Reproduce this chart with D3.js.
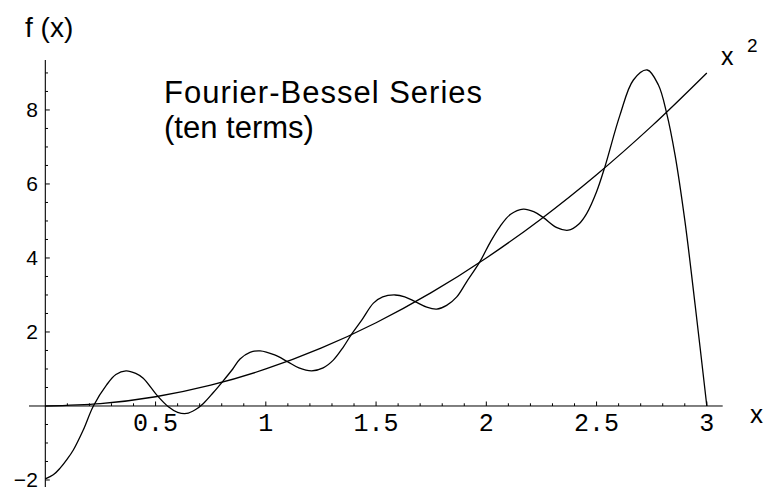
<!DOCTYPE html>
<html>
<head>
<meta charset="utf-8">
<script src="https://cdn.jsdelivr.net/npm/d3@7"></script>
<style>
  html, body { margin: 0; padding: 0; background: #fff; }
  svg { display: block; }
</style>
</head>
<body>
<svg id="chart" width="764" height="487"></svg>
<script>
// Ten-term Fourier-Bessel partial sum (x, f) and the target function x^2
const seriesX = [0.000, 0.036, 0.067, 0.100, 0.127, 0.172, 0.218, 0.278, 0.320, 0.366,
                 0.410, 0.444, 0.505, 0.558, 0.600, 0.641, 0.680, 0.717, 0.760, 0.804,
                 0.850, 0.883, 0.928, 0.974, 1.040, 1.098, 1.150, 1.208, 1.260, 1.306,
                 1.350, 1.390, 1.435, 1.488, 1.530, 1.586, 1.630, 1.677, 1.730, 1.775,
                 1.820, 1.866, 1.910, 1.971, 2.020, 2.062, 2.110, 2.168, 2.215, 2.259,
                 2.320, 2.372, 2.420, 2.455, 2.500, 2.538, 2.606, 2.667, 2.730, 2.780,
                 2.818, 2.856, 2.901, 2.947, 3.000];
const seriesY = [-1.97, -1.86, -1.68, -1.43, -1.19, -0.65, 0.00, 0.57, 0.85, 0.95,
                 0.88, 0.75, 0.30, -0.02, -0.17, -0.20, -0.10, 0.07, 0.35, 0.66,
                 1.00, 1.27, 1.45, 1.49, 1.38, 1.20, 1.03, 0.95, 1.03, 1.24,
                 1.58, 1.95, 2.32, 2.78, 2.95, 3.00, 2.95, 2.82, 2.67, 2.62,
                 2.72, 2.95, 3.35, 3.90, 4.45, 4.85, 5.18, 5.32, 5.25, 5.09,
                 4.82, 4.75, 4.92, 5.20, 5.79, 6.47, 7.86, 8.81, 9.08, 8.68,
                 7.91, 6.78, 4.98, 2.73, 0.00];

const squareX = [0, 0.25, 0.5, 0.75, 1, 1.25, 1.5, 1.75, 2, 2.25, 2.5, 2.75, 3];
const squareY = [0, 0.0625, 0.25, 0.5625, 1, 1.5625, 2.25, 3.0625, 4, 5.0625, 6.25, 7.5625, 9];

const xMajorTicks = [0.5, 1, 1.5, 2, 2.5, 3];
const xMajorLabels = ["0.5", "1", "1.5", "2", "2.5", "3"];
const xMinorTicks = [0.1, 0.2, 0.3, 0.4, 0.6, 0.7, 0.8, 0.9, 1.1, 1.2, 1.3, 1.4,
                     1.6, 1.7, 1.8, 1.9, 2.1, 2.2, 2.3, 2.4, 2.6, 2.7, 2.8, 2.9];
const yMajorTicks = [-2, 2, 4, 6, 8];
const yMajorLabels = ["\u22122", "2", "4", "6", "8"];
const yMinorTicks = [-1.5, -1, -0.5, 0.5, 1, 1.5, 2.5, 3, 3.5, 4.5, 5, 5.5,
                     6.5, 7, 7.5, 8.5, 9];

const svg = d3.select("#chart");

const x = d3.scaleLinear().domain([-0.074, 3.072]).range([29, 722.7]);
const y = d3.scaleLinear().domain([-2.2, 9.35]).range([487.4, 60]);

// x axis through the origin, ticks pointing up, labels beneath
const xAxis = svg.append("g")
  .attr("transform", `translate(0,${y(0)})`)
  .call(d3.axisBottom(x)
    .tickValues(xMajorTicks)
    .tickFormat((d, i) => xMajorLabels[i])
    .tickSizeInner(-4.5).tickSizeOuter(0).tickPadding(7.5).offset(0));
xAxis.select(".domain").attr("stroke", "#000").attr("stroke-width", 1);
xAxis.selectAll("line").attr("stroke", "#000");
xAxis.selectAll("text")
  .attr("font-family", "'Liberation Mono', 'Courier New', monospace")
  .attr("font-size", 25).attr("fill", "#000");

svg.append("g")
  .attr("transform", `translate(0,${y(0)})`)
  .call(d3.axisBottom(x).tickValues(xMinorTicks).tickFormat("")
    .tickSizeInner(-2.7).tickSizeOuter(0).offset(0))
  .call(g => g.select(".domain").remove())
  .selectAll("line").attr("stroke", "#000");

// y axis through the origin, ticks pointing right
const yAxis = svg.append("g")
  .attr("transform", `translate(${x(0)},0)`)
  .call(d3.axisLeft(y)
    .tickValues(yMajorTicks)
    .tickFormat((d, i) => yMajorLabels[i])
    .tickSizeInner(-4.5).tickSizeOuter(0).tickPadding(7.5).offset(0));
yAxis.select(".domain").attr("stroke", "#000").attr("stroke-width", 1.1);
yAxis.selectAll("line").attr("stroke", "#000");
yAxis.selectAll("text")
  .attr("font-family", "'Liberation Sans', Arial, Helvetica, sans-serif")
  .attr("font-size", 21).attr("fill", "#000");

svg.append("g")
  .attr("transform", `translate(${x(0)},0)`)
  .call(d3.axisLeft(y).tickValues(yMinorTicks).tickFormat("")
    .tickSizeInner(-2.7).tickSizeOuter(0).offset(0))
  .call(g => g.select(".domain").remove())
  .selectAll("line").attr("stroke", "#000");

// curves
const line = d3.line()
  .x(d => x(d[0]))
  .y(d => y(d[1]))
  .curve(d3.curveCatmullRom.alpha(0.5));

const squarePts = squareX.map((v, i) => [v, squareY[i]]);
const seriesPts = seriesX.map((v, i) => [v, seriesY[i]]);

svg.append("path")
  .datum(squarePts)
  .attr("d", line)
  .attr("fill", "none")
  .attr("stroke", "#000")
  .attr("stroke-width", 1.3);

svg.append("path")
  .datum(seriesPts)
  .attr("d", line)
  .attr("fill", "none")
  .attr("stroke", "#000")
  .attr("stroke-width", 1.3)
  .attr("stroke-linejoin", "round");

// text labels
const sans = "'Liberation Sans', Arial, Helvetica, sans-serif";

svg.append("text")
  .attr("x", 25).attr("y", 37)
  .attr("font-family", sans).attr("font-size", 28)
  .text("f (x)");

svg.append("text")
  .attr("x", 750).attr("y", 423)
  .attr("font-family", sans).attr("font-size", 26)
  .text("x");

const sq = svg.append("text")
  .attr("x", 721).attr("y", 65)
  .attr("font-family", sans).attr("font-size", 25);
sq.append("tspan").text("x");
sq.append("tspan").attr("x", 747).attr("y", 52).attr("font-size", 19).text("2");

svg.append("text")
  .attr("x", 164).attr("y", 103)
  .attr("font-family", sans).attr("font-size", 31)
  .attr("textLength", 318).attr("lengthAdjust", "spacing")
  .text("Fourier-Bessel Series");

svg.append("text")
  .attr("x", 164).attr("y", 138)
  .attr("font-family", sans).attr("font-size", 31)
  .text("(ten terms)");
</script>
</body>
</html>
